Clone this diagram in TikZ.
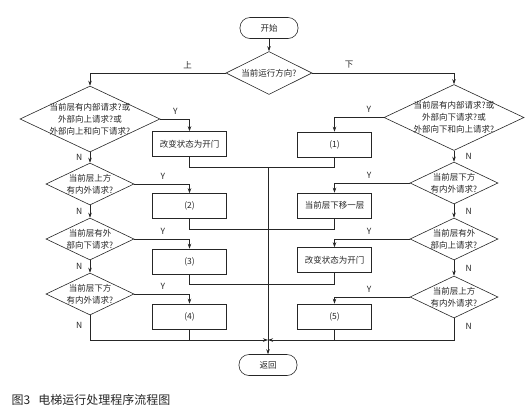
\documentclass[tikz,border=0pt]{standalone}
\usepackage{fontspec}
\usepackage{tikz}
\usetikzlibrary{positioning}
\usetikzlibrary{arrows.meta}
\usetikzlibrary{shapes.geometric}
\newfontfamily\cjk{Noto Sans CJK SC}
\def\boxWidth{74pt}
\def\boxHeight{25pt}
\def\flowFont{\fontsize{8.5}{12}\selectfont}
\def\capFont{\fontsize{12}{14}\selectfont}
\tikzset{% flow chart styles
  terminal/.style = {draw, rectangle, rounded corners=10pt, minimum width=58pt,
    minimum height=21pt, inner sep=0},
  decision/.style = {draw, diamond, shape aspect=2, inner xsep=-12pt,
    inner ysep=-5pt, align=center},
  bigdecision/.style = {decision, minimum width=140pt, minimum height=66pt},
  smalldecision/.style = {decision, minimum width=88pt, minimum height=42pt},
  process/.style  = {draw, rectangle, minimum width=\boxWidth,
    minimum height=\boxHeight, inner sep=0},
}

\begin{document}
\begin{tikzpicture}[x=1pt, y=-1pt, font=\cjk\flowFont, color=black!85,
    line width=0.6pt, >={Stealth[length=5pt, width=3.5pt]}]
  \useasboundingbox (0,0) rectangle (532,413);

  \node[terminal] (Start) at (269,28) {开始};
  \node[decision, minimum width=86pt, minimum height=43pt] (Dir) at (269,73) {当前运行方向?};

  % Up direction
  \node[bigdecision] (LQ1) at (90,119) {当前层有内部请求?或\\外部向上请求?或\\外部向上和向下请求?};
  \node[process] (LB1) at (189.5,144) {改变状态为开门};
  \node[smalldecision] (LQ2) at (90,184) {当前层上方\\有内外请求?};
  \node[process] (LB2) at (189.5,206) {(2)};
  \node[smalldecision] (LQ3) at (90,239) {当前层有外\\部向下请求?};
  \node[process] (LB3) at (189.5,261.5) {(3)};
  \node[smalldecision] (LQ4) at (90,294) {当前层下方\\有内外请求?};
  \node[process] (LB4) at (189.5,316.5) {(4)};

  % Down direction
  \node[bigdecision] (RQ1) at (454,117.5) {当前层有内部请求?或\\外部向下请求?或\\外部向下和向上请求?};
  \node[process] (RB1) at (334.5,144.5) {(1)};
  \node[smalldecision] (RQ2) at (454,183) {当前层下方\\有内外请求?};
  \node[process] (RB2) at (334.5,205.5) {当前层下移一层};
  \node[smalldecision] (RQ3) at (454,239) {当前层有外\\部向上请求?};
  \node[process] (RB3) at (334.5,260) {改变状态为开门};
  \node[smalldecision] (RQ4) at (454,297) {当前层上方\\有内外请求?};
  \node[process] (RB4) at (334.5,316.5) {(5)};

  \node[terminal] (Ret) at (268,365) {返回};

  % joins on the return line
  \coordinate (JoinA) at (268,167);
  \coordinate (JoinB) at (268,229);
  \coordinate (JoinC) at (268,284);
  \coordinate (Join) at (268,340);

  \draw[->] (Start) -- (Dir);
  \draw[->] (Dir.west) -| node[pos=0.14, above=1pt]{上} (LQ1);
  \draw[->] (Dir.east) -| node[pos=0.13, above=1pt]{下} (RQ1);

  \draw[->] (LQ1.east) -| node[pos=0.26, above=1pt]{Y} (LB1);
  \draw[->] (LQ2.east) -| node[pos=0.26, above=1pt]{Y} (LB2);
  \draw[->] (LQ3.east) -| node[pos=0.26, above=1pt]{Y} (LB3);
  \draw[->] (LQ4.east) -| node[pos=0.26, above=1pt]{Y} (LB4);
  \draw[->] (LQ1) -- node[left=4pt]{N} (LQ2);
  \draw[->] (LQ2) -- node[left=4pt]{N} (LQ3);
  \draw[->] (LQ3) -- node[left=4pt]{N} (LQ4);
  \draw[->] (LQ4.south) |- node[pos=0.2, left=4pt]{N} (Join);

  \draw[->] (RQ1.west) -| node[pos=0.15, above=1pt]{Y} (RB1);
  \draw[->] (RQ2.west) -| node[pos=0.27, above=1pt]{Y} (RB2);
  \draw[->] (RQ3.west) -| node[pos=0.27, above=1pt]{Y} (RB3);
  \draw[->] (RQ4.west) -| node[pos=0.27, above=1pt]{Y} (RB4);
  \draw[->] (RQ1) -- node[right=8pt]{N} (RQ2);
  \draw[->] (RQ2) -- node[right=8pt]{N} (RQ3);
  \draw[->] (RQ3) -- node[right=8pt]{N} (RQ4);
  \draw[->] (RQ4.south) |- node[pos=0.18, right=8pt]{N} (Join);

  \draw (LB1.south) |- (JoinA);
  \draw (LB2.south) |- (JoinB);
  \draw (LB3.south) |- (JoinC);
  \draw (LB4.south) -- (LB4.south |- Join);
  \draw (RB1.south) |- (JoinA);
  \draw (RB2.south) |- (JoinB);
  \draw (RB3.south) |- (JoinC);
  \draw (RB4.south) -- (RB4.south |- Join);
  \draw[->] (JoinA) -- (Ret);

  \node[anchor=west, font=\cjk\capFont] (Caption) at (8,400) {图3\hspace{8pt}电梯运行处理程序流程图};
\end{tikzpicture}
\end{document}
